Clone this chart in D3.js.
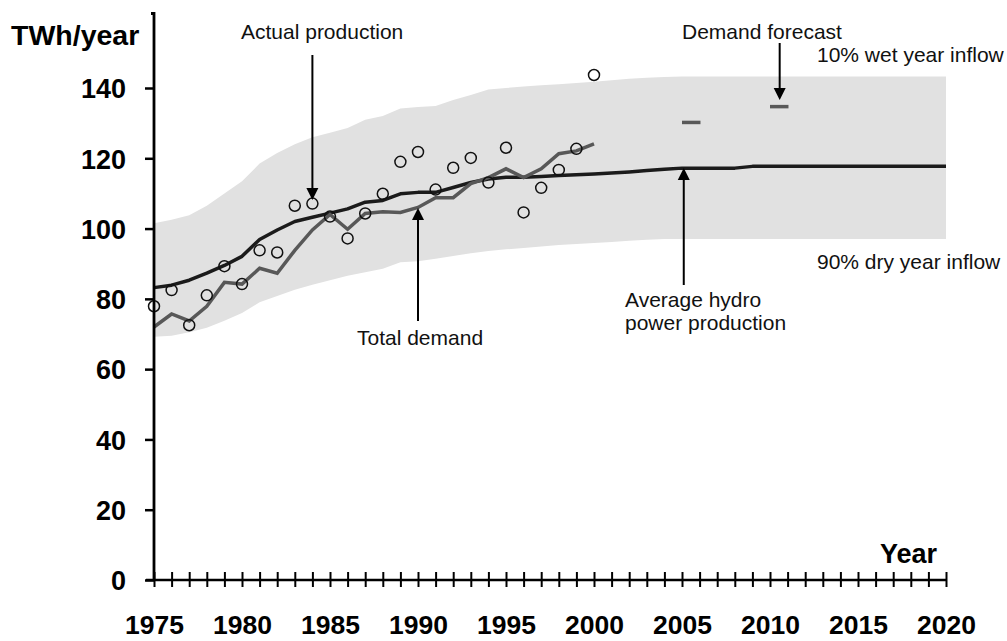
<!DOCTYPE html>
<html><head><meta charset="utf-8">
<script src="https://cdn.jsdelivr.net/npm/d3@7"></script>
<style>
body{margin:0;background:#fff}
svg{display:block}
text{font-family:"Liberation Sans",Arial,Helvetica,sans-serif}
</style>
</head><body>
<svg id="chart" width="1007" height="641"></svg>
<script>
// ---------- data ----------
const allYears = [1975,1976,1977,1978,1979,1980,1981,1982,1983,1984,1985,1986,1987,1988,1989,1990,1991,1992,1993,1994,1995,1996,1997,1998,1999,2000,2001,2002,2003,2004,2005,2006,2007,2008,2009,2010,2011,2012,2013,2014,2015,2016,2017,2018,2019,2020];
const wetYearInflow = [101.5,102.5,103.8,106.5,110.0,113.5,118.5,121.5,124.0,126.0,127.3,128.6,131.0,132.0,134.2,134.6,134.9,136.6,138.0,139.6,140.0,140.4,140.8,141.1,141.4,141.8,142.2,142.6,142.9,143.1,143.3,143.3,143.3,143.3,143.3,143.3,143.3,143.3,143.3,143.3,143.3,143.3,143.3,143.3,143.3,143.3];
const dryYearInflow = [69.2,69.5,70.5,71.8,73.8,76.0,79.0,80.8,82.6,84.0,85.3,86.6,87.6,88.6,90.4,90.7,91.4,92.2,93.0,93.6,94.1,94.5,94.9,95.3,95.6,95.9,96.2,96.5,96.8,97.0,97.0,97.0,97.0,97.0,97.0,97.0,97.0,97.0,97.0,97.0,97.0,97.0,97.0,97.0,97.0,97.0];
const averageHydro = [83.2,83.9,85.3,87.3,89.5,92.1,96.9,99.6,102.0,103.2,104.4,105.6,107.5,108.0,109.9,110.3,110.3,111.7,113.1,114.1,114.6,114.6,114.8,115.1,115.3,115.5,115.8,116.1,116.5,116.9,117.2,117.2,117.2,117.2,117.7,117.7,117.7,117.7,117.7,117.7,117.7,117.7,117.7,117.7,117.7,117.7];

const histYears = [1975,1976,1977,1978,1979,1980,1981,1982,1983,1984,1985,1986,1987,1988,1989,1990,1991,1992,1993,1994,1995,1996,1997,1998,1999,2000];
const totalDemand = [72.0,75.7,73.7,77.9,84.7,84.2,88.7,87.3,93.8,99.6,104.0,99.8,104.3,104.8,104.6,106.0,108.8,108.8,112.8,114.5,117.0,114.5,117.0,121.3,122.1,124.1];
const actualProduction = [77.9,82.5,72.5,81.0,89.3,84.2,93.8,93.2,106.5,107.1,103.4,97.2,104.3,109.9,119.0,121.8,111.1,117.3,120.1,113.1,123.0,104.6,111.6,116.7,122.7,143.7];

const forecastYears = [2005, 2010];
const demandForecast = [130.2, 134.7];

const yTickValues = [0,20,40,60,80,100,120,140];
const xLabelYears = [1975,1980,1985,1990,1995,2000,2005,2010,2015,2020];

// ---------- setup ----------
const svg = d3.select("#chart");
const x = d3.scaleLinear().domain([1975, 2020]).range([154, 946]);
const y = d3.scaleLinear().domain([0, 140]).range([580, 88]);

const bandData = allYears.map((yr, i) => ({yr, lo: dryYearInflow[i], hi: wetYearInflow[i], avg: averageHydro[i]}));
const histData = histYears.map((yr, i) => ({yr, dem: totalDemand[i], act: actualProduction[i]}));

// band
svg.append("path").datum(bandData)
  .attr("fill", "#e1e1e1")
  .attr("d", d3.area().x(d => x(d.yr)).y0(d => y(d.lo)).y1(d => y(d.hi)));

// average hydro production
svg.append("path").datum(bandData)
  .attr("fill", "none").attr("stroke", "#1b1b1b").attr("stroke-width", 3.5)
  .attr("stroke-linejoin", "round")
  .attr("d", d3.line().x(d => x(d.yr)).y(d => y(d.avg)));

// total demand
svg.append("path").datum(histData)
  .attr("fill", "none").attr("stroke", "#585858").attr("stroke-width", 3.5)
  .attr("stroke-linejoin", "miter")
  .attr("d", d3.line().x(d => x(d.yr)).y(d => y(d.dem)));

// actual production circles
svg.append("g").selectAll("circle").data(histData).join("circle")
  .attr("cx", d => x(d.yr)).attr("cy", d => y(d.act)).attr("r", 5.5)
  .attr("fill", "none").attr("stroke", "#111").attr("stroke-width", 1.5);

// demand forecast markers
svg.append("g").selectAll("line").data(forecastYears.map((yr, i) => ({yr, v: demandForecast[i]}))).join("line")
  .attr("x1", d => x(d.yr)).attr("x2", d => x(d.yr + 1.05))
  .attr("y1", d => y(d.v)).attr("y2", d => y(d.v))
  .attr("stroke", "#585858").attr("stroke-width", 3.5);

// ---------- axes ----------
const yAxis = svg.append("g").attr("transform", `translate(${x(1975)},0)`)
  .call(d3.axisLeft(y).tickValues(yTickValues).tickSize(9).tickSizeOuter(0).tickFormat(d3.format("d")));
yAxis.select(".domain").remove();
yAxis.selectAll(".tick line").attr("stroke", "#000").attr("stroke-width", 2.5);
yAxis.selectAll(".tick text")
  .attr("x", -28).attr("dy", "0.36em")
  .attr("font-size", 27).attr("font-weight", "bold").attr("fill", "#000")
  .style("font-family", "'Liberation Sans',Arial,sans-serif");
yAxis.append("path").attr("d", `M-3,${y(161.2)}H0V${y(0)}`)
  .attr("fill", "none").attr("stroke", "#000").attr("stroke-width", 2.8);

const xAxis = svg.append("g").attr("transform", `translate(0,${y(0)})`)
  .call(d3.axisBottom(x).tickValues(allYears).tickSize(7).tickSizeOuter(0)
        .tickFormat(d => xLabelYears.includes(d) ? String(d) : ""));
xAxis.select(".domain").remove();
xAxis.insert("path", ":first-child").attr("d", `M${x(1975) - 8},0H${x(2020)}`)
  .attr("stroke", "#000").attr("stroke-width", 2.5);
xAxis.selectAll(".tick line").attr("y1", -8).attr("y2", 7)
  .attr("stroke", "#000").attr("stroke-width", 2);
xAxis.selectAll(".tick text")
  .attr("y", 54).attr("dy", 0)
  .attr("font-size", 26.5).attr("font-weight", "bold").attr("fill", "#000")
  .style("font-family", "'Liberation Sans',Arial,sans-serif");

// axis titles
svg.append("text").attr("x", 11).attr("y", 45).attr("font-size", 28.5).attr("font-weight", "bold").text("TWh/year");
svg.append("text").attr("x", 937).attr("y", 563).attr("text-anchor", "end").attr("font-size", 27).attr("font-weight", "bold").text("Year");

// ---------- annotations ----------
function arrow(xp, yFrom, yTip) {
  const dir = yTip > yFrom ? 1 : -1;
  const base = yTip - dir * 12;
  svg.append("line").attr("x1", xp).attr("x2", xp).attr("y1", yFrom).attr("y2", base)
    .attr("stroke", "#000").attr("stroke-width", 2);
  svg.append("path").attr("d", `M${xp - 6},${base}L${xp + 6},${base}L${xp},${yTip}Z`).attr("fill", "#000");
}
arrow(x(1984), 55, 200);
arrow(x(2010.55), 43, 100);
arrow(x(2005.1), 285, 168);
arrow(x(1990), 321, 208);

const notes = [
  {t: "Actual production", x: 241, y: 39},
  {t: "Demand forecast", x: 682, y: 39},
  {t: "10% wet year inflow", x: 817, y: 62},
  {t: "90% dry year inflow", x: 817, y: 269},
  {t: "Average hydro", x: 625, y: 307},
  {t: "power production", x: 625, y: 330},
  {t: "Total demand", x: 357, y: 345}
];
svg.append("g").selectAll("text").data(notes).join("text")
  .attr("x", d => d.x).attr("y", d => d.y).attr("font-size", 21).attr("fill", "#111").text(d => d.t);
</script>
</body></html>
